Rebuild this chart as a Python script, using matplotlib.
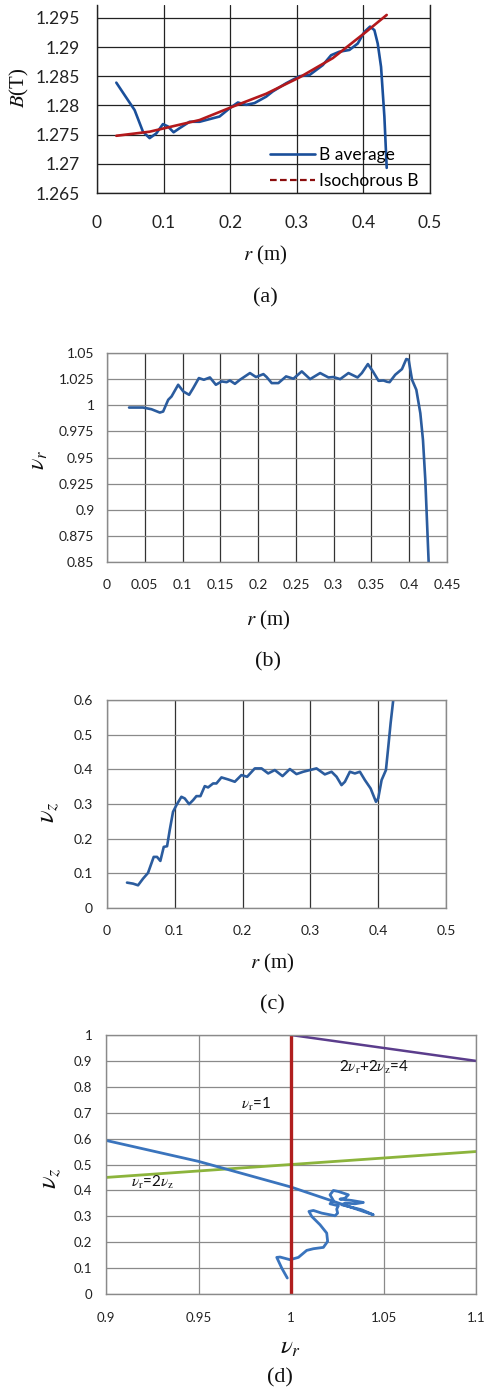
import matplotlib
matplotlib.use("Agg")
import matplotlib.pyplot as plt
from matplotlib.lines import Line2D

plt.rcParams['font.family'] = ['Lato', 'DejaVu Sans']
plt.rcParams['mathtext.fontset'] = 'stix'
plt.rcParams['lines.solid_joinstyle'] = 'round'
plt.rcParams['lines.solid_capstyle'] = 'round'

# (a) B average and isochorous B vs r
r_avg = [0.029, 0.043, 0.0565, 0.069, 0.079, 0.089, 0.099, 0.1065, 0.115, 0.124,
         0.139, 0.154, 0.174, 0.184, 0.199, 0.2115, 0.224, 0.2365, 0.254, 0.264,
         0.284, 0.304, 0.319, 0.339, 0.3515, 0.364, 0.379, 0.3915, 0.4015, 0.41,
         0.4165, 0.4215, 0.4265, 0.4315, 0.435]
b_avg = [1.2839, 1.2815, 1.2792, 1.2755, 1.2744, 1.2752, 1.2768, 1.2764, 1.2754, 1.2761,
         1.2772, 1.2772, 1.2778, 1.2781, 1.2795, 1.2805, 1.2801, 1.2804, 1.2815, 1.2824,
         1.2838, 1.2850, 1.2852, 1.2869, 1.2886, 1.2892, 1.2895, 1.2906, 1.2926, 1.2935,
         1.2929, 1.2906, 1.2866, 1.2781, 1.2693]
r_iso = [0.029, 0.079, 0.154, 0.204, 0.254, 0.304, 0.354, 0.404, 0.435]
b_iso = [1.2748, 1.2755, 1.2775, 1.2798, 1.2820, 1.2848, 1.2881, 1.2926, 1.2955]

# (b) nu_r vs r
r_b = [0.0292, 0.0477, 0.0588, 0.0699, 0.0743, 0.081, 0.0854, 0.0942, 0.101, 0.1087,
       0.1141, 0.1216, 0.1282, 0.1362, 0.1441, 0.1517, 0.1583, 0.1627, 0.1693, 0.176,
       0.1826, 0.1892, 0.1972, 0.207, 0.2113, 0.218, 0.2268, 0.237, 0.2467, 0.2578,
       0.2688, 0.2821, 0.2931, 0.2997, 0.3086, 0.3196, 0.3316, 0.3373, 0.3453, 0.3519,
       0.3594, 0.366, 0.3705, 0.374, 0.3815, 0.3904, 0.3961, 0.3992, 0.4037, 0.4094,
       0.4147, 0.4182, 0.4213, 0.4257, 0.427]
nu_r = [0.9978, 0.9978, 0.9962, 0.993, 0.994, 1.0052, 1.0084, 1.0196, 1.0132, 1.010,
        1.0164, 1.026, 1.0244, 1.0266, 1.0196, 1.0228, 1.0221, 1.0237, 1.0205, 1.0244,
        1.0276, 1.0308, 1.027, 1.0298, 1.027, 1.0212, 1.0212, 1.0276, 1.0254, 1.0324,
        1.025, 1.0308, 1.0266, 1.027, 1.025, 1.0308, 1.0266, 1.0308, 1.0394, 1.0324,
        1.0234, 1.0237, 1.0225, 1.0221, 1.0292, 1.0346, 1.0442, 1.0436, 1.0244, 1.0148,
        0.9924, 0.9668, 0.9284, 0.85, 0.84]

# (c) nu_z vs r
r_c = [0.0295, 0.0384, 0.0458, 0.0532, 0.0605, 0.0689, 0.0738, 0.0787, 0.0837, 0.0886,
       0.0925, 0.0974, 0.1024, 0.1097, 0.1147, 0.1211, 0.127, 0.1319, 0.1378, 0.1442,
       0.1491, 0.1565, 0.1614, 0.1688, 0.1786, 0.1885, 0.1983, 0.2067, 0.218, 0.2279,
       0.2377, 0.2475, 0.2589, 0.2697, 0.2795, 0.2894, 0.2992, 0.309, 0.3213, 0.3312,
       0.3386, 0.3459, 0.3509, 0.3582, 0.3656, 0.373, 0.3804, 0.3888, 0.3967, 0.4,
       0.405, 0.4114, 0.4149, 0.4183, 0.4222, 0.424]
nu_z = [0.0732, 0.0703, 0.0655, 0.0848, 0.1012, 0.1474, 0.1474, 0.1358, 0.1763, 0.1782,
        0.2245, 0.2775, 0.2967, 0.3208, 0.316, 0.2996, 0.3112, 0.3227, 0.3227, 0.3516,
        0.3478, 0.3593, 0.3593, 0.3767, 0.3709, 0.3642, 0.3834, 0.3786, 0.4027, 0.4027,
        0.3882, 0.3979, 0.3805, 0.4008, 0.3863, 0.393, 0.3979, 0.4027, 0.3854, 0.393,
        0.3786, 0.3545, 0.3642, 0.393, 0.3882, 0.393, 0.369, 0.3449, 0.3064, 0.316,
        0.369, 0.3979, 0.4653, 0.5328, 0.6, 0.63]

# (d) working path nu_z vs nu_r, and resonance lines
path_r = [0.998, 0.995, 0.9923, 0.9941, 0.9995, 1.004, 1.0085, 1.0121, 1.0175, 1.0198,
          1.0193, 1.0157, 1.0112, 1.0097, 1.0121, 1.0166, 1.0211, 1.0238, 1.0252, 1.0247,
          1.0256, 1.0211, 1.0229, 1.0211, 1.0229, 1.0256, 1.0283, 1.031, 1.0292, 1.0265,
          1.0328, 1.0391, 1.0346, 1.0292, 1.0274, 1.031, 1.0382, 1.0445, 1.0, 0.95,
          0.9, 0.89]
path_z = [0.0617, 0.100, 0.1414, 0.1427, 0.1324, 0.1414, 0.1684, 0.1748, 0.180, 0.2031,
          0.2352, 0.2674, 0.2995, 0.3188, 0.3226, 0.3123, 0.3059, 0.302, 0.3123, 0.3278,
          0.3406, 0.3483, 0.3612, 0.383, 0.3997, 0.3959, 0.3895, 0.383, 0.370, 0.3663,
          0.3612, 0.3535, 0.3483, 0.3509, 0.3445, 0.338, 0.3252, 0.3059, 0.413, 0.512,
          0.593, 0.613]
sum_r = [1.0, 1.1]
sum_z = [1.0, 0.9]
half_r = [0.9, 1.0, 1.1]
half_z = [0.45, 0.50, 0.55]
int_r = [1.0, 1.0]
int_z = [0.0, 1.0]

W, H = 485, 1391
fig = plt.figure(figsize=(W / 100, H / 100), dpi=100)


def box(l, t, r, b):
    return [l / W, 1 - b / H, (r - l) / W, (b - t) / H]


def ftext(x, y, s, size, rot=0, family='Liberation Serif'):
    fig.text(x / W, 1 - y / H, s, ha='center', va='center', rotation=rot,
             fontsize=size, family=family, color='#111111')


def style(ax, spine_col, size, xpad, ypad):
    for s in ax.spines.values():
        s.set_color(spine_col)
        s.set_linewidth(1.0)
    ax.tick_params(length=0, labelsize=size, pad=0, colors='#222222')
    ax.tick_params(axis='x', pad=xpad)
    ax.tick_params(axis='y', pad=ypad)
    ax.set_axisbelow(True)


# panel (a)
ax = fig.add_axes(box(97, 5, 430, 193))
ax.plot(r_avg, b_avg, color='#1a4f9a', lw=1.9)
ax.plot(r_iso, b_iso, color='#b3191c', lw=1.9)
ax.set_xlim(0, 0.5)
ax.set_ylim(1.265, 1.2972)
ax.set_xticks([0, 0.1, 0.2, 0.3, 0.4, 0.5])
ax.set_xticklabels(['0', '0.1', '0.2', '0.3', '0.4', '0.5'])
ax.set_yticks([1.265, 1.27, 1.275, 1.28, 1.285, 1.29, 1.295])
ax.set_yticklabels(['1.265', '1.27', '1.275', '1.28', '1.285', '1.29', '1.295'])
ax.grid(True, color='#222222', lw=0.9)
style(ax, '#222222', 12.5, 16, 12)
ax.spines['top'].set_visible(False)
handles = [Line2D([], [], color='#1a4f9a', lw=1.9),
           Line2D([], [], color='#8b0d0d', lw=1.6, ls=(0, (3, 1.5)))]
ax.legend(handles, ['B average', 'Isochorous B'], loc='upper left',
          bbox_to_anchor=((270 - 97) / 333, (193 - 147) / 188), frameon=False,
          fontsize=12.5, borderpad=0, borderaxespad=0,
          handlelength=2.6, handletextpad=0.2, labelspacing=0.6)
ftext(19, 88, r'$B$(T)', 15, rot=90)
ftext(265, 255, r'$r$ (m)', 15)
ftext(265, 298, '(a)', 16)

# panel (b)
ax = fig.add_axes(box(107, 353, 447, 562))
ax.plot(r_b, nu_r, color='#2b5c9e', lw=1.9)
ax.set_xlim(0, 0.45)
ax.set_ylim(0.85, 1.05)
ax.set_xticks([0, 0.05, 0.1, 0.15, 0.2, 0.25, 0.3, 0.35, 0.4, 0.45])
ax.set_xticklabels(['0', '0.05', '0.1', '0.15', '0.2', '0.25', '0.3', '0.35', '0.4', '0.45'])
ax.set_yticks([0.85, 0.875, 0.9, 0.925, 0.95, 0.975, 1.0, 1.025, 1.05])
ax.set_yticklabels(['0.85', '0.875', '0.9', '0.925', '0.95', '0.975', '1', '1.025', '1.05'])
ax.grid(True, axis='x', color='#333333', lw=0.9)
ax.grid(True, axis='y', color='#8a8a8a', lw=0.9)
style(ax, '#8a8a8a', 10, 12, 9)
ftext(40, 460, r'$\nu_r$', 17, rot=90)
ftext(268, 620, r'$r$ (m)', 15)
ftext(268, 662, '(b)', 16)

# panel (c)
ax = fig.add_axes(box(107, 700, 446, 908))
ax.plot(r_c, nu_z, color='#2b5c9e', lw=1.9)
ax.set_xlim(0, 0.5)
ax.set_ylim(0, 0.6)
ax.set_xticks([0, 0.1, 0.2, 0.3, 0.4, 0.5])
ax.set_xticklabels(['0', '0.1', '0.2', '0.3', '0.4', '0.5'])
ax.set_yticks([0, 0.1, 0.2, 0.3, 0.4, 0.5, 0.6])
ax.set_yticklabels(['0', '0.1', '0.2', '0.3', '0.4', '0.5', '0.6'])
ax.grid(True, axis='x', color='#333333', lw=0.9)
ax.grid(True, axis='y', color='#8a8a8a', lw=0.9)
style(ax, '#8a8a8a', 10, 12, 10)
ftext(50, 812, r'$\nu_z$', 19, rot=90)
ftext(272, 963, r'$r$ (m)', 15)
ftext(272, 1005, '(c)', 16)

# panel (d)
ax = fig.add_axes(box(106, 1035, 476, 1294))
ax.plot(sum_r, sum_z, color='#5b3d8c', lw=1.8)
ax.plot(half_r, half_z, color='#8cb43c', lw=2.0)
ax.plot(path_r, path_z, color='#3a74bd', lw=2.0)
ax.plot(int_r, int_z, color='#b01e1e', lw=2.4)
ax.set_xlim(0.9, 1.1)
ax.set_ylim(0, 1)
ax.set_xticks([0.9, 0.95, 1.0, 1.05, 1.1])
ax.set_xticklabels(['0.9', '0.95', '1', '1.05', '1.1'])
ax.set_yticks([0, 0.1, 0.2, 0.3, 0.4, 0.5, 0.6, 0.7, 0.8, 0.9, 1.0])
ax.set_yticklabels(['0', '0.1', '0.2', '0.3', '0.4', '0.5', '0.6', '0.7', '0.8', '0.9', '1'])
ax.grid(True, color='#8a8a8a', lw=0.9)
style(ax, '#8a8a8a', 9.5, 13, 10)
ax.text(1.026, 0.873, r'2$\nu_\mathrm{r}$+2$\nu_\mathrm{z}$=4', fontsize=11,
        va='center', ha='left', color='#111111')
ax.text(0.981, 0.73, r'$\nu_\mathrm{r}$=1', fontsize=11,
        va='center', ha='center', color='#111111')
ax.text(0.925, 0.43, r'$\nu_\mathrm{r}$=2$\nu_\mathrm{z}$', fontsize=11,
        va='center', ha='center', color='#111111')
ftext(52, 1178, r'$\nu_z$', 19, rot=90)
ftext(290, 1348, r'$\nu_r$', 18)
ftext(280, 1378, '(d)', 16)

fig.savefig('out.png', dpi=100)
